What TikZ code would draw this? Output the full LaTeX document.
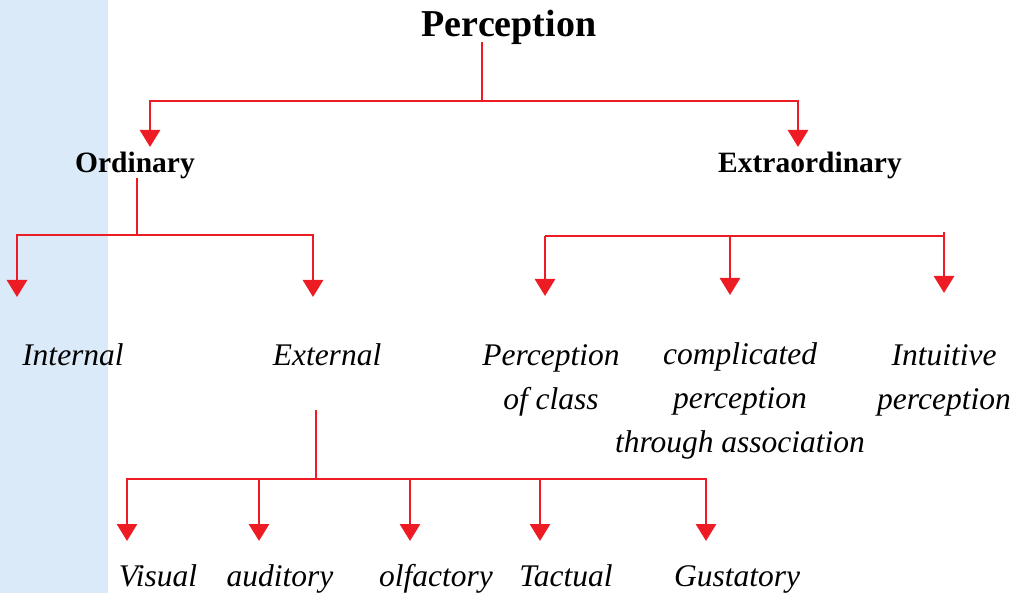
\documentclass[tikz,border=0pt]{standalone}
\usepackage{fontspec}
\setmainfont{Liberation Serif}
\usetikzlibrary{arrows.meta}
\definecolor{band}{HTML}{DAEAF8}
\definecolor{lred}{HTML}{ED1C24}
\begin{document}
\begin{tikzpicture}[x=1pt,y=-1pt,
  conn/.style={draw=lred,line width=2.9pt},
  arr/.style={conn,-{Triangle[width=20pt,length=17pt]}},
  title/.style={font=\fontsize{38}{44}\selectfont\bfseries,inner sep=0pt,anchor=base},
  head/.style={font=\fontsize{29.5}{35}\selectfont\bfseries,inner sep=0pt,anchor=base},
  leaf/.style={font=\fontsize{31.5}{44}\selectfont\itshape,inner sep=0pt,anchor=base,align=center}]
\useasboundingbox (0,0) rectangle (1022,593);
\fill[band] (0,0) rectangle (108,593);
% nodes
\node[title] (perc) at (509,37) {Perception};
\node[head] (ord) at (135,173) {Ordinary};
\node[head] (ext) at (810,173) {Extraordinary};
\node[leaf] (int) at (73,365) {Internal};
\node[leaf] (exl) at (327,365) {External};
\node[leaf] (cls) at (551,409) {Perception\\of class};
\node[leaf] (cmp) at (740,452) {complicated\\perception\\through association};
\node[leaf] (itu) at (944,409) {Intuitive\\perception};
\node[leaf] (vis) at (158,586) {Visual};
\node[leaf] (aud) at (280,586) {auditory};
\node[leaf] (olf) at (436,586) {olfactory};
\node[leaf] (tac) at (566,586) {Tactual};
\node[leaf] (gus) at (737,586) {Gustatory};
% connector points
\coordinate (p0) at (482,42);
\coordinate (p1) at (482,101);
\coordinate (pl) at (150,101);
\coordinate (pr) at (798,101);
\coordinate (plt) at (150,147);
\coordinate (prt) at (798,147);
\coordinate (o0) at (137,178);
\coordinate (o1) at (137,235);
\coordinate (ol) at (17,235);
\coordinate (or) at (313,235);
\coordinate (olt) at (17,297);
\coordinate (ort) at (313,297);
\coordinate (el) at (545,236);
\coordinate (em) at (730,236);
\coordinate (er) at (944,236);
\coordinate (ert0) at (944,232);
\coordinate (elt) at (545,296);
\coordinate (emt) at (730,295);
\coordinate (ert) at (944,293);
\coordinate (x0) at (316,410);
\coordinate (x1) at (316,479);
\coordinate (xa) at (127,479);
\coordinate (xe) at (706,479);
\coordinate (va) at (127,541);
\coordinate (vb) at (259,541);
\coordinate (vc) at (410,541);
\coordinate (vd) at (540,541);
\coordinate (ve) at (706,541);
% connectors
\draw[conn] (p0) -- (p1);
\draw[arr] (p1) -- (pl) -- (plt);
\draw[arr] (p1) -- (pr) -- (prt);
\draw[conn] (o0) -- (o1);
\draw[arr] (o1) -- (ol) -- (olt);
\draw[arr] (o1) -- (or) -- (ort);
\draw[conn] (el) -- (er);
\draw[arr] (el) -- (elt);
\draw[arr] (em) -- (emt);
\draw[arr] (ert0) -- (ert);
\draw[conn] (x0) -- (x1);
\draw[arr] (x1) -- (xa) -- (va);
\draw[arr] (x1) -- (xe) -- (ve);
\draw[arr] (vb |- x1) -- (vb);
\draw[arr] (vc |- x1) -- (vc);
\draw[arr] (vd |- x1) -- (vd);
\end{tikzpicture}
\end{document}
